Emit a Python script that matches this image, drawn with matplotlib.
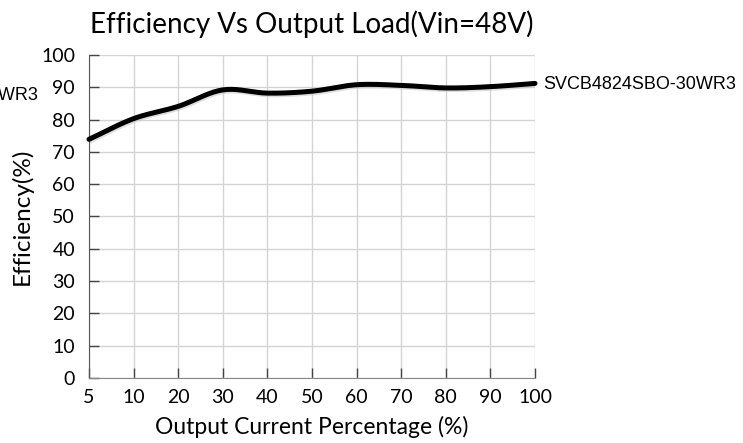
import matplotlib
matplotlib.use("Agg")
import matplotlib.pyplot as plt
import numpy as np

# data
load_labels = ["5", "10", "20", "30", "40", "50", "60", "70", "80", "90", "100"]
efficiency = [73.9, 80.3, 84.1, 89.2, 88.2, 88.8, 90.8, 90.6, 89.8, 90.2, 91.2]
series_name = "SVCB4824SBO-30WR3"
y_ticks = [0, 10, 20, 30, 40, 50, 60, 70, 80, 90, 100]


def smooth(xs, ys, n=20):
    """Catmull-Rom curve through the points, for a smooth line like the original."""
    xs = np.asarray(xs, float)
    ys = np.asarray(ys, float)
    px = np.concatenate([[2 * xs[0] - xs[1]], xs, [2 * xs[-1] - xs[-2]]])
    py = np.concatenate([[2 * ys[0] - ys[1]], ys, [2 * ys[-1] - ys[-2]]])
    out_x, out_y = [], []
    t = np.linspace(0, 1, n, endpoint=False)
    for i in range(1, len(px) - 2):
        for p, o in ((px, out_x), (py, out_y)):
            p0, p1, p2, p3 = p[i - 1], p[i], p[i + 1], p[i + 2]
            o.extend(0.5 * ((2 * p1) + (-p0 + p2) * t
                            + (2 * p0 - 5 * p1 + 4 * p2 - p3) * t ** 2
                            + (-p0 + 3 * p1 - 3 * p2 + p3) * t ** 3))
    out_x.append(xs[-1])
    out_y.append(ys[-1])
    return np.array(out_x), np.array(out_y)


plt.rcParams["font.family"] = ["Lato", "DejaVu Sans"]

fig = plt.figure(figsize=(7.43, 4.43), dpi=100)
ax = fig.add_axes([89 / 743, 1 - 378 / 443, (535 - 89) / 743, (378 - 55) / 443])

pos = np.arange(len(load_labels))
sx, sy = smooth(pos, efficiency)
shadow = ax.transData + matplotlib.transforms.ScaledTranslation(1 / 100, -1 / 100, fig.dpi_scale_trans)
ax.plot(sx, sy, color="#c8c8c8", lw=4.5, alpha=0.6, zorder=2, transform=shadow)
ax.plot(sx, sy, color="black", lw=3.6, solid_capstyle="round", zorder=3, clip_on=False)

ax.set_xlim(0, len(load_labels) - 1)
ax.set_ylim(0, 100)
ax.set_xticks(pos)
ax.set_xticklabels(load_labels)
ax.set_yticks(y_ticks)

ax.grid(True, color="#d4d4d4", lw=1)
ax.set_axisbelow(True)
for side in ("top", "right"):
    ax.spines[side].set_visible(False)
ax.spines["left"].set_color("#555555")
ax.spines["bottom"].set_color("#888888")
ax.tick_params(axis="both", direction="in", length=7, width=1, color="#444444",
               labelsize=14)
ax.tick_params(axis="y", pad=10)
ax.tick_params(axis="x", pad=8)

ax.set_title("Efficiency Vs Output Load(Vin=48V)", fontsize=20, pad=16)
ax.set_xlabel("Output Current Percentage (%)", fontsize=16.5, labelpad=7)
ax.set_ylabel("Efficiency(%)", fontsize=17.5, labelpad=6)

# series name at both ends of the line
fig.text(543 / 743, 1 - 84 / 443, series_name, family="Liberation Sans",
         fontsize=13, va="center", ha="left")
fig.text(38 / 743, 1 - 96 / 443, series_name, family="Liberation Sans",
         fontsize=13, va="center", ha="right")

fig.savefig("out.png", dpi=100)
